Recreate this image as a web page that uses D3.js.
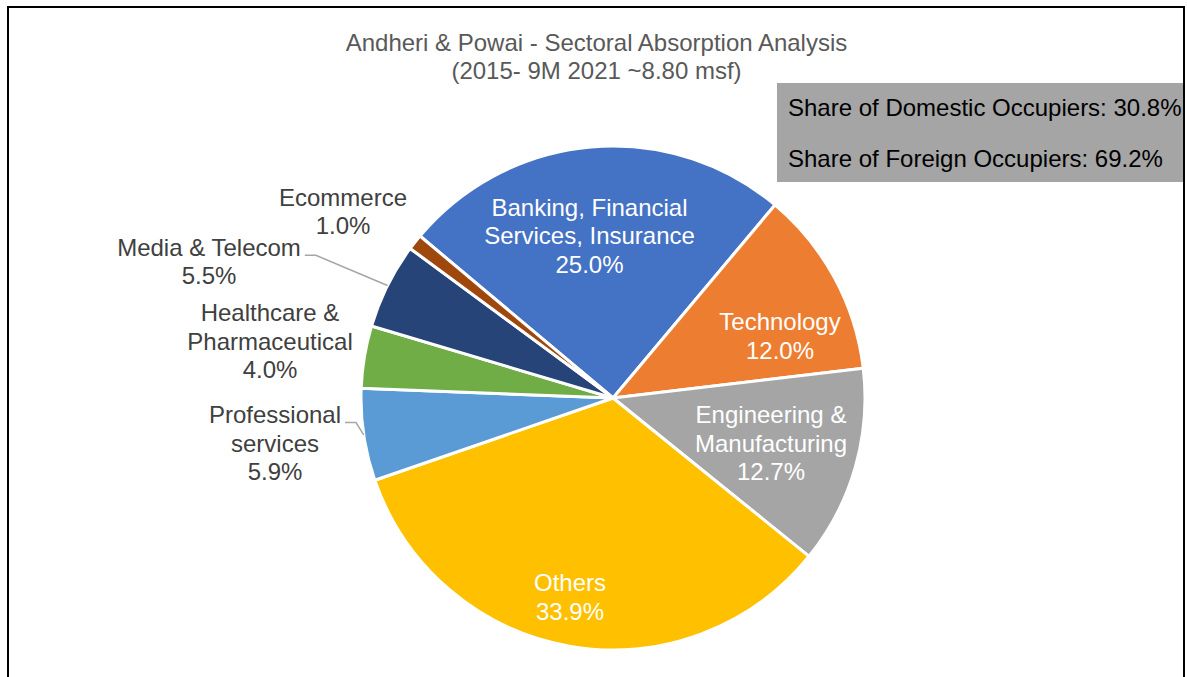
<!DOCTYPE html>
<html>
<head>
<meta charset="utf-8">
<script src="https://cdn.jsdelivr.net/npm/d3@7"></script>
<style>
  body { margin: 0; background: #fff; }
  svg { display: block; font-family: "Liberation Sans", Arial, sans-serif; }
</style>
</head>
<body>
<div id="chart"></div>
<script>
/* DATA */
const sectors = ["Banking, Financial Services, Insurance", "Technology", "Engineering & Manufacturing",
  "Others", "Professional services", "Healthcare & Pharmaceutical", "Media & Telecom", "Ecommerce"];
const shares = [25.0, 12.0, 12.7, 33.9, 5.9, 4.0, 5.5, 1.0];
const colors = ["#4472C4", "#ED7D31", "#A5A5A5", "#FFC000", "#5B9BD5", "#70AD47", "#264478", "#9E480E"];
const labelLines = [
  ["Banking, Financial", "Services, Insurance"],
  ["Technology"],
  ["Engineering &", "Manufacturing"],
  ["Others"],
  ["Professional", "services"],
  ["Healthcare &", "Pharmaceutical"],
  ["Media & Telecom"],
  ["Ecommerce"]
];
const titleLines = ["Andheri & Powai - Sectoral Absorption Analysis", "(2015- 9M 2021 ~8.80 msf)"];
const boxLines = ["Share of Domestic Occupiers: 30.8%", "Share of Foreign Occupiers: 69.2%"];

/* CONSTANTS */
const width = 1187, height = 677;
const cx = 613, cy = 398, radius = 252;
const lineH = 28.5;
// label placement relative to the pie centre (Excel "best fit")
const labelLayout = [
  { dx: -23.5, dy: -162.5, inside: true },
  { dx: 167, dy: -62, inside: true },
  { dx: 158, dy: 45, inside: true },
  { dx: -43, dy: 199, inside: true },
  { dx: -338, dy: 45, inside: false, leader: true },
  { dx: -343, dy: -57, inside: false },
  { dx: -404, dy: -136.5, inside: false, leader: true },
  { dx: -270, dy: -186.5, inside: false }
];

const data = sectors.map((s, i) => ({ sector: s, value: shares[i], color: colors[i], lines: labelLines[i], layout: labelLayout[i] }));

const svg = d3.select("#chart").append("svg")
  .attr("width", width)
  .attr("height", height);

// outer frame
svg.append("rect")
  .attr("x", 8).attr("y", 7)
  .attr("width", 1176).attr("height", 700)
  .attr("fill", "none")
  .attr("stroke", "#000")
  .attr("stroke-width", 2);

// title
svg.append("g").selectAll("text")
  .data(titleLines)
  .join("text")
  .attr("x", 596.5)
  .attr("y", (d, i) => 42 + i * 28)
  .attr("text-anchor", "middle")
  .attr("dominant-baseline", "central")
  .attr("font-size", 24)
  .attr("fill", "#595959")
  .text(d => d);

/* PIE */
const pie = d3.pie()
  .value(d => d.value)
  .sort(null)
  .startAngle(-50 * Math.PI / 180)
  .endAngle(310 * Math.PI / 180);

const arc = d3.arc().innerRadius(0).outerRadius(radius);
const edgeArc = d3.arc().innerRadius(radius).outerRadius(radius);

const arcs = pie(data);
const g = svg.append("g").attr("transform", `translate(${cx},${cy})`);

g.selectAll("path.slice")
  .data(arcs)
  .join("path")
  .attr("class", "slice")
  .attr("d", arc)
  .attr("fill", d => d.data.color)
  .attr("stroke", "#fff")
  .attr("stroke-width", 3)
  .attr("stroke-linejoin", "round");

// labels
const labels = g.selectAll("g.label")
  .data(arcs)
  .join("g")
  .attr("class", "label")
  .attr("transform", d => `translate(${d.data.layout.dx},${d.data.layout.dy})`);

labels.each(function (d) {
  const lines = d.data.lines.concat([d3.format(".1f")(d.data.value) + "%"]);
  const n = lines.length;
  d3.select(this).selectAll("text")
    .data(lines)
    .join("text")
    .attr("x", 0)
    .attr("y", (t, i) => (i - (n - 1) / 2) * lineH)
    .attr("text-anchor", "middle")
    .attr("dominant-baseline", "central")
    .attr("font-size", 24)
    .attr("fill", d.data.layout.inside ? "#fff" : "#404040")
    .text(t => t);
});

// leader lines
labels.filter(d => d.data.layout.leader).each(function (d) {
  const first = d3.select(this).select("text").node();
  const w = first.getComputedTextLength();
  const n = d.data.lines.length + 1;
  const x0 = d.data.layout.dx + w / 2 + 4;
  const y0 = d.data.layout.dy - (n - 1) / 2 * lineH + 8;
  const end = edgeArc.centroid(d);
  g.append("polyline")
    .attr("points", [[x0, y0], [x0 + 11, y0], end].map(p => p.join(",")).join(" "))
    .attr("fill", "none")
    .attr("stroke", "#A6A6A6")
    .attr("stroke-width", 1.5);
});

/* SHARE BOX */
svg.append("rect")
  .attr("x", 777).attr("y", 83)
  .attr("width", 406).attr("height", 99)
  .attr("fill", "#A5A5A5");

svg.append("g").selectAll("text")
  .data(boxLines)
  .join("text")
  .attr("x", 788)
  .attr("y", (d, i) => 107 + i * 51)
  .attr("dominant-baseline", "central")
  .attr("font-size", 24)
  .attr("fill", "#000")
  .text(d => d);
</script>
</body>
</html>
